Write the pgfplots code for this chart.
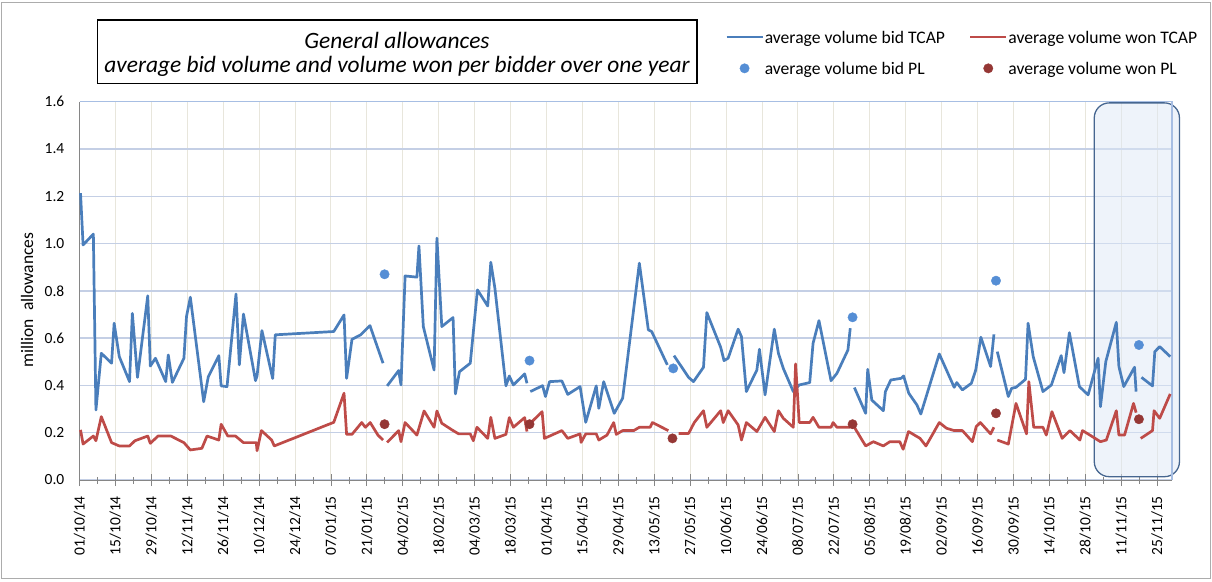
\documentclass[border=0pt]{standalone}
\usepackage{pgfplots}
\pgfplotsset{compat=1.18}
\usepackage{fontspec}
\setmainfont{Carlito}
\definecolor{bidblue}{HTML}{4A7EBB}
\definecolor{wonred}{HTML}{BE4B48}
\definecolor{pldot}{HTML}{558ED5}
\definecolor{pldotred}{HTML}{953735}
\definecolor{hgrid}{HTML}{C4CFE5}
\definecolor{vgrid}{HTML}{E8E6DC}
\definecolor{axgray}{HTML}{868686}
\definecolor{frameblue}{HTML}{A7BEE3}
\definecolor{boxedge}{HTML}{466690}
\definecolor{boxfill}{HTML}{DDE7F5}

\pgfplotstableread{
x y
0.4 1.213
1.4 0.994
5.4 1.04
6.4 0.296
8.5 0.536
12.5 0.494
13.5 0.663
15.5 0.522
19.5 0.416
20.6 0.705
22.6 0.434
26.6 0.779
27.6 0.482
29.6 0.515
33.6 0.416
34.6 0.529
36.2 0.413
40.7 0.515
41.7 0.691
43.2 0.773
48.4 0.331
50.2 0.437
54.3 0.526
55.2 0.398
57.5 0.395
61.0 0.787
62.3 0.487
63.9 0.702
68.6 0.420
69.2 0.440
71.1 0.632
75.3 0.429
76.3 0.614
99.1 0.628
103.1 0.698
104.1 0.430
106.2 0.595
109.6 0.614
113.2 0.653
118.3 0.494
nan nan
119.9 0.398
124.4 0.463
125.3 0.402
126.9 0.863
131.5 0.858
132.3 0.990
134.0 0.649
138.2 0.465
139.3 1.023
141.2 0.649
145.6 0.687
146.5 0.364
148.1 0.458
152.3 0.494
155.1 0.804
159.1 0.736
160.3 0.921
161.9 0.811
166.2 0.398
167.5 0.440
169.1 0.402
173.5 0.449
174.4 0.409
nan nan
175.7 0.374
180.5 0.399
181.6 0.353
183.2 0.416
188.0 0.419
190.3 0.362
195.1 0.395
197.3 0.244
201.4 0.398
202.4 0.303
204.3 0.416
208.4 0.282
211.7 0.346
218.2 0.917
221.7 0.635
223.0 0.628
229.1 0.487
nan nan
231.7 0.526
237.4 0.434
239.3 0.416
243.2 0.477
244.5 0.708
249.9 0.561
251.2 0.505
252.8 0.515
256.7 0.638
258.0 0.606
259.9 0.374
264.0 0.465
265.0 0.553
267.2 0.360
270.8 0.638
272.4 0.536
274.3 0.472
278.2 0.374
280.5 0.402
284.6 0.412
285.9 0.578
288.2 0.674
292.9 0.420
295.2 0.451
299.5 0.550
300.4 0.642
nan nan
302.0 0.391
306.4 0.282
307.2 0.468
308.8 0.338
313.3 0.293
314.1 0.374
316.2 0.423
320.2 0.430
321.2 0.440
323.2 0.367
326.4 0.317
327.9 0.279
335.1 0.533
340.9 0.392
341.9 0.412
344.1 0.381
347.6 0.409
349.3 0.465
351.3 0.604
355.1 0.480
356.4 0.616
nan nan
357.7 0.543
362.0 0.353
363.3 0.388
365.0 0.392
368.7 0.426
369.7 0.663
371.7 0.522
375.5 0.374
378.8 0.402
382.6 0.526
383.7 0.454
385.8 0.623
389.7 0.395
393.1 0.360
397.0 0.515
397.9 0.310
400.0 0.501
404.1 0.667
405.1 0.480
407.0 0.395
411.2 0.477
411.8 0.374
nan nan
413.9 0.434
418.2 0.398
419.1 0.543
421.0 0.564
425.1 0.522
}\bidtcap

\pgfplotstableread{
x y
0.4 0.212
1.4 0.152
5.4 0.186
6.4 0.166
8.5 0.268
12.5 0.158
15.5 0.144
19.5 0.144
21.6 0.166
26.6 0.186
27.6 0.155
30.6 0.186
35.6 0.186
40.7 0.158
43.2 0.127
47.7 0.134
49.7 0.186
54.3 0.169
55.2 0.236
57.8 0.186
60.8 0.186
63.9 0.158
68.9 0.158
69.2 0.124
70.9 0.209
74.9 0.169
75.9 0.144
99.1 0.244
103.1 0.367
104.1 0.193
106.2 0.193
110.0 0.243
111.4 0.223
113.3 0.243
116.3 0.190
118.3 0.169
nan nan
119.9 0.159
124.4 0.209
125.3 0.162
126.9 0.243
131.5 0.190
134.3 0.292
138.2 0.223
139.3 0.292
141.2 0.240
145.6 0.209
147.8 0.195
152.3 0.195
153.5 0.166
154.9 0.223
159.1 0.176
160.3 0.265
161.9 0.176
166.2 0.193
167.5 0.264
169.1 0.223
173.5 0.264
174.4 0.205
nan nan
175.7 0.240
180.3 0.289
181.2 0.176
188.0 0.209
190.3 0.176
195.1 0.195
195.5 0.159
197.3 0.195
201.4 0.195
202.4 0.169
205.6 0.190
208.2 0.243
209.2 0.193
211.7 0.209
216.0 0.209
218.2 0.223
222.4 0.223
223.3 0.243
229.5 0.209
nan nan
233.5 0.197
237.4 0.197
239.6 0.243
243.2 0.293
244.5 0.223
249.9 0.293
250.9 0.243
252.8 0.293
256.7 0.233
258.0 0.169
259.9 0.243
264.0 0.205
267.2 0.265
270.8 0.205
272.4 0.293
274.3 0.261
278.2 0.223
279.1 0.491
280.5 0.243
284.6 0.243
285.9 0.265
288.2 0.223
292.9 0.223
293.7 0.243
295.2 0.223
300.4 0.223
nan nan
302.0 0.223
306.4 0.144
309.4 0.162
313.3 0.144
315.8 0.162
319.7 0.162
321.0 0.130
323.1 0.205
327.6 0.176
329.9 0.144
335.1 0.243
337.9 0.219
340.9 0.209
344.1 0.209
348.0 0.162
349.5 0.226
351.1 0.243
355.1 0.195
356.4 0.223
nan nan
357.7 0.169
362.0 0.152
365.0 0.324
369.1 0.195
370.0 0.416
371.9 0.223
375.5 0.223
376.8 0.190
379.0 0.289
383.0 0.176
386.0 0.209
389.9 0.169
390.9 0.209
393.8 0.190
397.9 0.162
400.2 0.169
404.1 0.293
405.1 0.190
407.3 0.190
410.8 0.324
411.8 0.285
nan nan
413.6 0.176
418.2 0.209
418.8 0.293
421.0 0.261
425.1 0.364
}\wontcap

\pgfplotstableread{
x y
118.9 0.870
175.4 0.505
231.4 0.472
301.3 0.688
357.2 0.843
412.9 0.571
}\bidpl

\pgfplotstableread{
x y
118.9 0.236
175.4 0.236
231.1 0.176
301.3 0.236
357.2 0.282
412.9 0.257
}\wonpl

\begin{document}
\begin{tikzpicture}[x=1pt,y=1pt]
\path[use as bounding box] (0,0) rectangle (1212,581);
\draw[color=gray!65, line width=1pt] (1.5,3) rectangle (1210.5,578);

\draw[black, line width=1.2pt] (97.3,561) rectangle (697,497.7);
\node[inner sep=0pt, align=center, font=\fontsize{23.4}{24}\selectfont\itshape] at (397,527)
  {General allowances\\average bid volume and volume won per bidder over one year};

\begin{axis}[
  at={(79.5pt,101pt)}, anchor=south west,
  width=1092.5pt, height=378.3pt, scale only axis,
  xmin=0, xmax=425.8, ymin=0, ymax=1.6,
  clip=false,
  unbounded coords=jump,
  axis x line=bottom, axis y line=left,
  axis line style={draw=axgray, line width=0.9pt, -},
  xtick={0,14,...,420},
  minor xtick={7,21,...,413},
  xticklabels={01/10/14,15/10/14,29/10/14,12/11/14,26/11/14,10/12/14,24/12/14,07/01/15,21/01/15,04/02/15,18/02/15,04/03/15,18/03/15,01/04/15,15/04/15,29/04/15,13/05/15,27/05/15,10/06/15,24/06/15,08/07/15,22/07/15,05/08/15,19/08/15,02/09/15,16/09/15,30/09/15,14/10/15,28/10/15,11/11/15,25/11/15},
  ytick={0,0.2,0.4,0.6,0.8,1.0,1.2,1.4,1.6},
  yticklabels={0.0,0.2,0.4,0.6,0.8,1.0,1.2,1.4,1.6},
  xtick align=center,
  major tick length=12pt, minor tick length=7pt,
  x tick style={draw=axgray, line width=0.8pt},
  minor x tick style={draw=axgray, line width=0.8pt},
  y tick style={draw=none},
  xmajorgrids, ymajorgrids,
  x grid style={vgrid, line width=1pt},
  y grid style={hgrid, line width=1.5pt},
  ticklabel style={font=\fontsize{15.5}{18}\selectfont, text=black},
  xticklabel style={yshift=-10pt, rotate=90, anchor=east, inner sep=0pt},
  yticklabel style={anchor=east, inner sep=0pt, xshift=-9pt},
  ylabel={million\ \ allowances},
  every axis y label/.style={at={(axis description cs:-0.048,0.476)}, rotate=90, anchor=center,
    font=\fontsize{17.5}{20}\selectfont},
  legend columns=2,
  legend cell align=left,
  legend style={at={(axis description cs:0.591,1.19)}, anchor=north west,
    draw=none, fill=none, font=\fontsize{17.6}{20}\selectfont,
    inner sep=0pt,
    nodes={inner sep=1pt, text depth=0pt},
    /tikz/row sep=17pt,
    /tikz/every even column/.append style={column sep=23pt}},
]
\draw[boxedge, line width=1.3pt, fill=boxfill, fill opacity=0.5, rounded corners=15pt]
  (axis cs:395.5,0.014) rectangle (axis cs:428.7,1.595);
\draw[frameblue, line width=1.2pt] (rel axis cs:0,1) -- (rel axis cs:1,1) -- (rel axis cs:1,0);

\addplot[bidblue, line width=2.7pt, line join=round, no markers,
  legend image code/.code={\draw[bidblue, line width=2.4pt] (0pt,0pt) -- (36pt,0pt);}]
  table[x=x,y=y] {\bidtcap};
\addlegendentry{average volume bid TCAP}
\addplot[wonred, line width=2.7pt, line join=round, no markers,
  legend image code/.code={\draw[wonred, line width=2.4pt] (0pt,0pt) -- (36pt,0pt);}]
  table[x=x,y=y] {\wontcap};
\addlegendentry{average volume won TCAP}
\addplot[only marks, mark=*, mark size=4.7pt, mark options={draw=pldot, fill=pldot},
  legend image code/.code={\fill[pldot] (18pt,0pt) circle (4.7pt); \path[draw=none,fill=none] (0pt,-4pt) rectangle (36pt,4pt);}]
  table[x=x,y=y] {\bidpl};
\addlegendentry{average volume bid PL}
\addplot[only marks, mark=*, mark size=4.7pt, mark options={draw=pldotred, fill=pldotred},
  legend image code/.code={\fill[pldotred] (18pt,0pt) circle (4.7pt); \path[draw=none,fill=none] (0pt,-4pt) rectangle (36pt,4pt);}]
  table[x=x,y=y] {\wonpl};
\addlegendentry{average volume won PL}
\end{axis}
\end{tikzpicture}
\end{document}
